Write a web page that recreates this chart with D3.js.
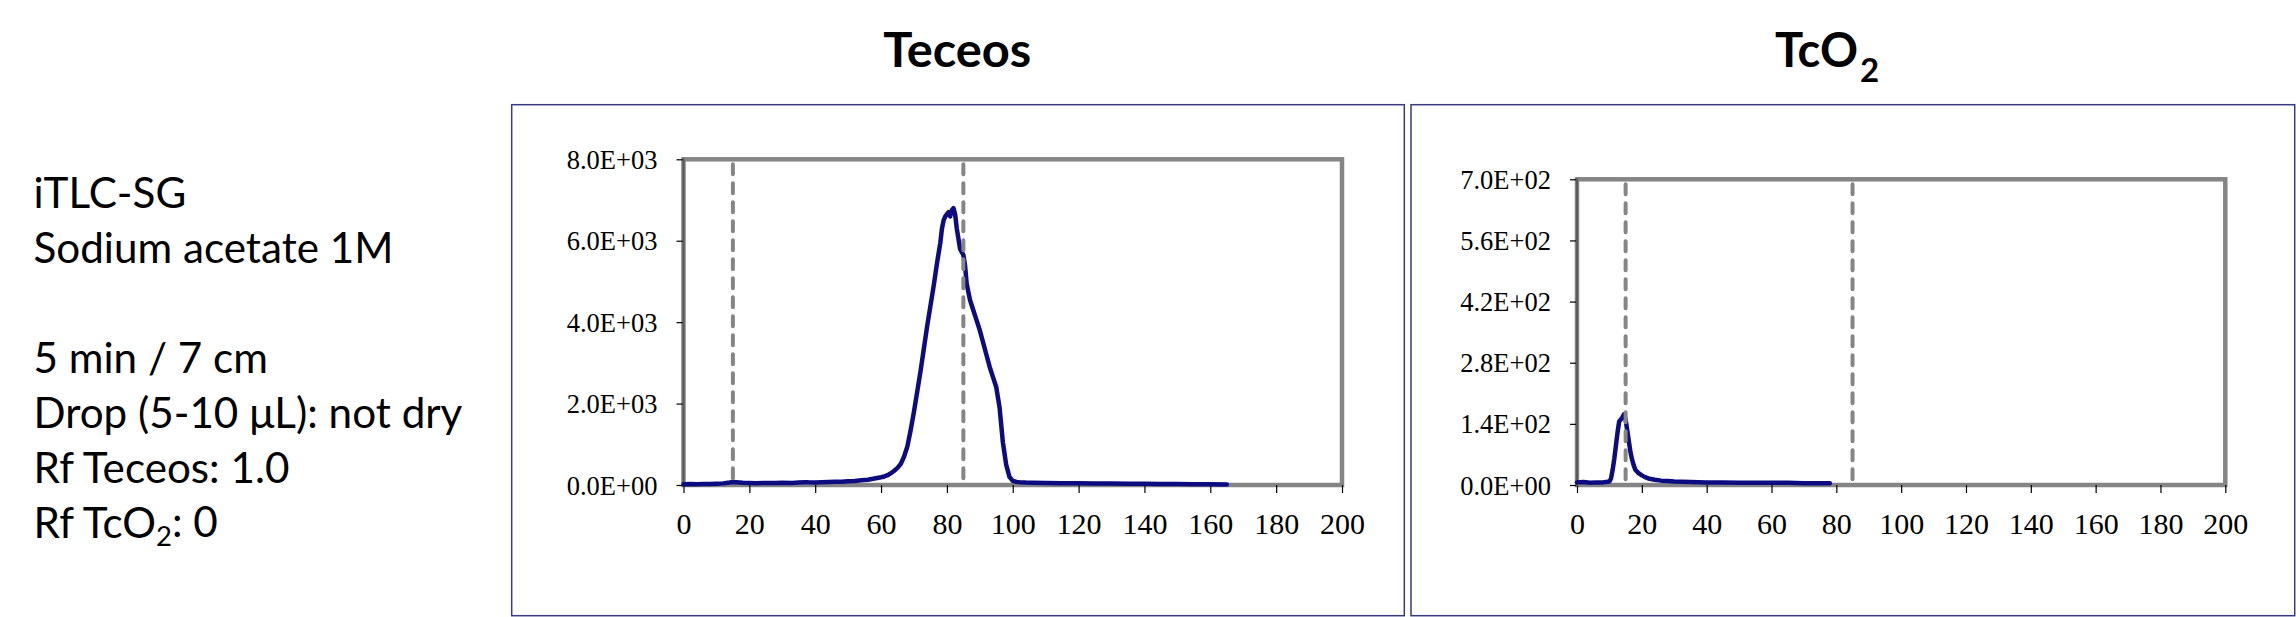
<!DOCTYPE html>
<html>
<head>
<meta charset="utf-8">
<script src="https://cdn.jsdelivr.net/npm/d3@7"></script>
<style>
  html, body { margin: 0; padding: 0; background: #fff; }
  svg { display: block; }
</style>
</head>
<body>
<svg id="chart" width="2296" height="617"></svg>
<script>
// ---------------- DATA ----------------
const xTicks = [0, 20, 40, 60, 80, 100, 120, 140, 160, 180, 200];
const markerPositions = [15, 85];

const teceosYTicks = [0, 2000, 4000, 6000, 8000];
const teceosYTickLabels = ["0.0E+00", "2.0E+03", "4.0E+03", "6.0E+03", "8.0E+03"];
const tco2YTicks = [0, 140, 280, 420, 560, 700];
const tco2YTickLabels = ["0.0E+00", "1.4E+02", "2.8E+02", "4.2E+02", "5.6E+02", "7.0E+02"];

const teceosPos = [0, 2, 4, 6, 8, 10, 12, 14, 15, 16, 18, 20, 22, 25, 28, 30, 33, 35, 37, 38, 40, 42, 44, 46, 48, 50, 52, 54, 56, 58, 60, 61, 62, 63, 64, 65, 66, 67, 68, 69, 70, 71, 72, 73, 74, 75, 76, 77, 78, 78.5, 79, 79.5, 80, 80.5, 81, 81.5, 82, 82.5, 83, 83.5, 84, 85, 85.5, 86, 86.5, 87, 88, 89, 90, 91, 92, 93, 94, 95, 96, 97, 98, 99, 100, 101, 102, 104, 106, 110, 115, 120, 125, 130, 135, 140, 145, 150, 155, 160, 165];
const teceosCounts = [20, 22, 18, 25, 22, 30, 40, 60, 75, 70, 55, 50, 45, 50, 48, 55, 52, 60, 70, 65, 62, 70, 75, 80, 78, 90, 100, 115, 130, 160, 190, 210, 240, 290, 350, 420, 520, 700, 950, 1350, 1800, 2300, 2800, 3350, 3900, 4400, 4900, 5450, 5950, 6300, 6500, 6600, 6650, 6700, 6600, 6750, 6800, 6650, 6300, 6050, 5800, 5650, 5400, 4950, 4750, 4550, 4300, 4050, 3800, 3500, 3200, 2900, 2650, 2400, 1900, 1050, 500, 200, 100, 80, 70, 60, 55, 50, 45, 42, 38, 35, 30, 28, 25, 22, 20, 18, 15];

const tco2Pos = [0, 2, 4, 6, 8, 10, 10.5, 11, 11.5, 12, 12.5, 13, 13.5, 14, 14.5, 15, 15.5, 16, 16.5, 17, 17.5, 18, 19, 20, 21, 22, 24, 26, 28, 30, 35, 40, 45, 50, 55, 60, 65, 70, 75, 78];
const tco2Counts = [6, 7, 5, 6, 6, 8, 15, 35, 60, 90, 120, 145, 150, 155, 162, 150, 125, 100, 75, 58, 45, 35, 27, 22, 18, 15, 12, 10, 9, 8, 7, 6, 6, 5, 5, 5, 5, 4, 4, 4];

const infoLines = ["iTLC-SG", "Sodium acetate 1M", "", "5 min / 7 cm", "Drop (5-10 μL): not dry", "Rf Teceos: 1.0", "Rf TcO|2|: 0"];

// ---------------- DRAW ----------------
const svg = d3.select("#chart");
const frameY0 = 104.7, frameY1 = 615.7;
const frameColor = "#3a3a82";

const panels = [
  { frame: [511.7, 1404.3], plot: { l: 683.5, r: 1342, t: 159.3, b: 485 },
    ymax: 8000, yTicks: teceosYTicks, yLabels: teceosYTickLabels, xs: teceosPos, ys: teceosCounts },
  { frame: [1411, 2294.7], plot: { l: 1577, r: 2225.3, t: 179.3, b: 485 },
    ymax: 700, yTicks: tco2YTicks, yLabels: tco2YTickLabels, xs: tco2Pos, ys: tco2Counts }
];

panels.forEach(p => {
  svg.append("rect")
    .attr("x", p.frame[0]).attr("y", frameY0)
    .attr("width", p.frame[1] - p.frame[0]).attr("height", frameY1 - frameY0)
    .attr("fill", "none").attr("stroke", frameColor).attr("stroke-width", 1.5);

  const x = d3.scaleLinear().domain([0, 200]).range([p.plot.l, p.plot.r]);
  const y = d3.scaleLinear().domain([0, p.ymax]).range([p.plot.b, p.plot.t]);

  // plot border
  svg.append("rect")
    .attr("x", p.plot.l).attr("y", p.plot.t)
    .attr("width", p.plot.r - p.plot.l).attr("height", p.plot.b - p.plot.t)
    .attr("fill", "none").attr("stroke", "#858585").attr("stroke-width", 4.5);

  // axes
  const yAxis = d3.axisLeft(y).tickValues(p.yTicks)
    .tickFormat((d, i) => p.yLabels[i]).tickSize(7).tickPadding(19);
  const gy = svg.append("g").attr("transform", `translate(${p.plot.l},0)`).call(yAxis);
  gy.select(".domain").remove();
  gy.selectAll(".tick line").attr("stroke", "#000").attr("stroke-width", 1.2);
  gy.selectAll(".tick text").attr("font-family", "'Liberation Serif', 'Times New Roman', serif")
    .attr("font-size", 26.5).attr("fill", "#000").attr("dy", "0.34em");

  const xAxis = d3.axisBottom(x).tickValues(xTicks).tickSize(8).tickPadding(19.5);
  const gx = svg.append("g").attr("transform", `translate(0,${p.plot.b})`).call(xAxis);
  gx.select(".domain").remove();
  gx.selectAll(".tick line").attr("stroke", "#000").attr("stroke-width", 1.2);
  gx.selectAll(".tick text").attr("font-family", "'Liberation Serif', 'Times New Roman', serif")
    .attr("font-size", 30).attr("fill", "#000");

  // left axis line
  svg.append("line")
    .attr("x1", p.plot.l).attr("x2", p.plot.l).attr("y1", p.plot.t - 1).attr("y2", p.plot.b + 1)
    .attr("stroke", "#5a5a5a").attr("stroke-width", 2);

  // data curve
  const pts = p.xs.map((v, i) => [v, p.ys[i]]);
  svg.append("path").datum(pts)
    .attr("d", d3.line().x(d => x(d[0])).y(d => y(d[1])))
    .attr("fill", "none").attr("stroke", "#0c0c80").attr("stroke-width", 4.5)
    .attr("stroke-linejoin", "round").attr("stroke-linecap", "round");

  // dashed markers
  svg.selectAll(null).data(markerPositions).enter().append("line")
    .attr("x1", d => x(d)).attr("x2", d => x(d))
    .attr("y1", p.plot.t + 5).attr("y2", p.plot.b - 2)
    .attr("stroke", "#858585").attr("stroke-width", 4)
    .attr("stroke-dasharray", "10,9").attr("stroke-linecap", "round");
});

// titles
const titleFont = "Lato, 'Open Sans', sans-serif";
svg.append("text").text("Teceos")
  .attr("x", 883.3).attr("y", 66.7)
  .attr("font-family", titleFont).attr("font-weight", "bold").attr("font-size", 47)
  .attr("textLength", 148).attr("lengthAdjust", "spacingAndGlyphs").attr("fill", "#000");
svg.append("text").text("TcO")
  .attr("x", 1775).attr("y", 67.3)
  .attr("font-family", titleFont).attr("font-weight", "bold").attr("font-size", 47)
  .attr("textLength", 83).attr("lengthAdjust", "spacingAndGlyphs").attr("fill", "#000");
svg.append("text").text("2")
  .attr("x", 1860).attr("y", 82)
  .attr("font-family", titleFont).attr("font-weight", "bold").attr("font-size", 33)
  .attr("fill", "#000");

// info text
const infoFont = "Lato, 'Open Sans', sans-serif";
const baseSize = 45;
const infoG = svg.append("g");
infoLines.forEach((line, i) => {
  if (!line) return;
  const t = infoG.append("text").attr("x", 33.5).attr("y", 207.5 + i * 55)
    .attr("font-family", infoFont).attr("font-size", baseSize).attr("fill", "#000");
  const parts = line.split("|");
  parts.forEach((s, j) => {
    const ts = t.append("tspan").text(s);
    if (j % 2 === 1) ts.attr("font-size", baseSize * 0.65).attr("dy", "0.3em");
    else if (j > 0) ts.attr("dy", "-0.2em");
  });
});
// fit font size to reference width of "Sodium acetate 1M" (≈360px)
const ref = infoG.selectAll("text").filter(function() { return this.textContent === "Sodium acetate 1M"; });
const w = ref.node().getComputedTextLength();
const k = 360 / w;
infoG.selectAll("text").attr("font-size", baseSize * k);
infoG.selectAll("tspan").filter(function() { return this.getAttribute("font-size"); })
  .attr("font-size", baseSize * k * 0.65);
</script>
</body>
</html>
